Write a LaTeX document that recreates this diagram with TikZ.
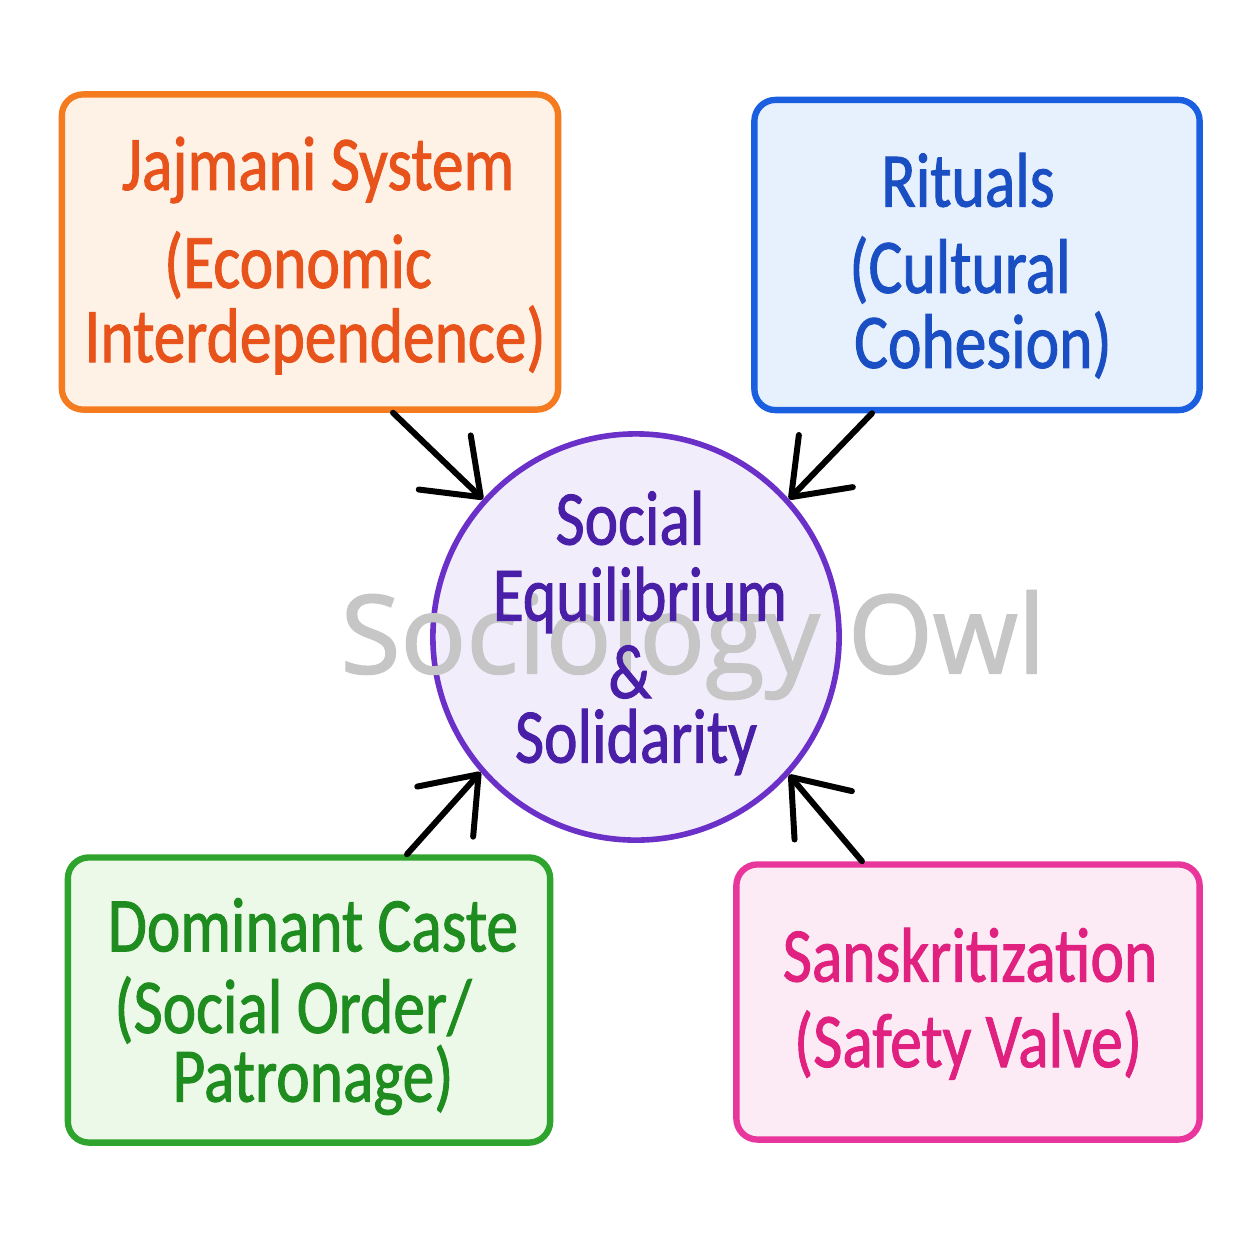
\documentclass[tikz,border=0pt]{standalone}
\usepackage{fontspec}
\setmainfont{Carlito}[FakeStretch=0.82,FakeBold=1.2]
\newfontfamily\wmfont{Open Sans}[FakeBold=1.6]
\usetikzlibrary{arrows.meta,calc}
\definecolor{orgB}{HTML}{F47B20}
\definecolor{orgF}{HTML}{FEF1E6}
\definecolor{orgT}{HTML}{E8531C}
\definecolor{bluB}{HTML}{1A5FE0}
\definecolor{bluF}{HTML}{E7F0FD}
\definecolor{bluT}{HTML}{1A4FC4}
\definecolor{grnB}{HTML}{2EA32E}
\definecolor{grnF}{HTML}{ECF9E8}
\definecolor{grnT}{HTML}{1E8C1E}
\definecolor{pnkB}{HTML}{E8369C}
\definecolor{pnkF}{HTML}{FCEAF4}
\definecolor{pnkT}{HTML}{E0217F}
\definecolor{purB}{HTML}{6B30C8}
\definecolor{purF}{HTML}{F2EDFB}
\definecolor{purT}{HTML}{4A1FA8}
\definecolor{wm}{HTML}{C6C6C6}
\tikzset{
  card/.style={draw, line width=1.8pt, rounded corners=6pt, inner sep=0pt},
  lbl/.style={font=\fontsize{22}{25}\selectfont, inner sep=0pt, anchor=center},
  conn/.style={line width=1.7pt, line cap=round, -{Straight Barb[length=5mm,width=7.5mm,line cap=round,line join=round]}},
}
\begin{document}
\begin{tikzpicture}[x=0.01cm,y=-0.01cm]
\useasboundingbox[fill=white] (0,0) rectangle (1254,1254);
% boxes
\node[card, draw=orgB, fill=orgF, minimum width=4.96cm, minimum height=3.15cm] (jaj) at (310,252) {};
\node[card, draw=bluB, fill=bluF, minimum width=4.45cm, minimum height=3.10cm] (rit) at (977,255) {};
\node[card, draw=grnB, fill=grnF, minimum width=4.82cm, minimum height=2.85cm] (dom) at (309,1000) {};
\node[card, draw=pnkB, fill=pnkF, minimum width=4.63cm, minimum height=2.75cm] (san) at (968,1002) {};
\node[circle, draw=purB, fill=purF, line width=1.6pt, minimum size=4.06cm, inner sep=0pt] (eq) at (636,637) {};
% watermark
\node[text=wm, font=\wmfont\fontsize{31}{34}\selectfont, inner sep=0pt] (wmk) at (693,645) {Sociology Owl};
% texts
\node[lbl, text=orgT] (t1a) at (318,170) {Jajmani System};
\node[lbl, text=orgT] (t1b) at (298,265) {(Economic};
\node[lbl, text=orgT] (t1c) at (315,340) {Interdependence)};
\node[lbl, text=bluT] (t2a) at (968,180) {Rituals};
\node[lbl, text=bluT] (t2b) at (960,270) {(Cultural};
\node[lbl, text=bluT] (t2c) at (983,345) {Cohesion)};
\node[lbl, text=grnT] (t3a) at (313,925) {Dominant Caste};
\node[lbl, text=grnT] (t3b) at (293,1010) {(Social Order/};
\node[lbl, text=grnT] (t3c) at (313,1080) {Patronage)};
\node[lbl, text=pnkT] (t4a) at (970,955) {Sanskritization};
\node[lbl, text=pnkT] (t4b) at (968,1045) {(Safety Valve)};
\node[lbl, text=purT] (t5a) at (630,518) {Social};
\node[lbl, text=purT] (t5b) at (640,600) {Equilibrium};
\node[lbl, text=purT] (t5c) at (630,672) {\&};
\node[lbl, text=purT] (t5d) at (636,742) {Solidarity};
% arrows
\draw[conn] ($(jaj.south)+(83,0)$) -- (eq.138);
\draw[conn] ($(rit.south)+(-105,0)$) -- (eq.42);
\draw[conn] ($(dom.north)+(98,0)$) -- (eq.221);
\draw[conn] ($(san.north)+(-106,0)$) -- (eq.318);
\end{tikzpicture}
\end{document}
